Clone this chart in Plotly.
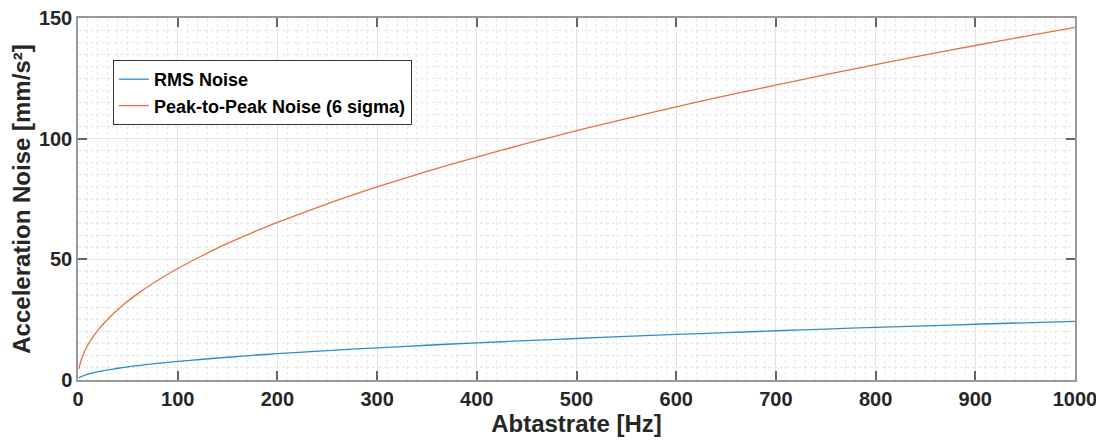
import plotly.graph_objects as go

freq_hz = [1, 2, 3, 5, 7, 10, 15, 20, 30, 40, 50, 60, 75, 100, 125, 150, 175, 200, 250,
           300, 350, 400, 450, 500, 550, 600, 650, 700, 750, 800, 850, 900, 950, 1000]
rms_noise = [0.77, 1.09, 1.33, 1.72, 2.04, 2.44, 2.98, 3.45, 4.22, 4.87, 5.45, 5.96,
             6.67, 7.70, 8.60, 9.43, 10.2, 10.9, 12.2, 13.3, 14.4, 15.4, 16.3, 17.2,
             18.1, 18.9, 19.6, 20.4, 21.1, 21.8, 22.4, 23.1, 23.7, 24.3]
p2p_noise = [4.6, 6.5, 8.0, 10.3, 12.2, 14.6, 17.9, 20.7, 25.3, 29.2, 32.7, 35.8, 40.0,
             46.2, 51.6, 56.6, 61.1, 65.3, 73.0, 80.0, 86.4, 92.4, 98.0, 103.3, 108.3,
             113.2, 117.8, 122.2, 126.5, 130.7, 134.7, 138.6, 142.4, 146.1]
x_ticks = [0, 100, 200, 300, 400, 500, 600, 700, 800, 900, 1000]
y_ticks = [0, 50, 100, 150]

FONT = "Liberation Sans"
TXT = "#262626"

fig = go.Figure()
fig.add_trace(go.Scatter(x=freq_hz, y=rms_noise, mode="lines", name="<b>RMS Noise</b>",
                         line=dict(color="#2f8ccc", width=1.3, shape="spline", smoothing=0.6)))
fig.add_trace(go.Scatter(x=freq_hz, y=p2p_noise, mode="lines",
                         name="<b>Peak-to-Peak Noise (6 sigma)</b>",
                         line=dict(color="#e5713f", width=1.3, shape="spline", smoothing=0.6)))

axis_common = dict(
    showline=True, linecolor="#999999", linewidth=1.5, mirror="ticks",
    ticks="inside", ticklen=9, tickcolor="#666666", tickwidth=1.5,
    showgrid=True, gridcolor="#e3e3e3", gridwidth=1, zeroline=False,
    tickfont=dict(family=FONT, size=20, color=TXT), automargin=False,
    ticklabeloverflow="allow",
)

fig.update_xaxes(
    range=[0, 1000], tickvals=x_ticks, ticktext=[f"<b>{v}</b>" for v in x_ticks],
    minor=dict(dtick=10, showgrid=True, gridcolor="#e6e6e6", griddash="dot", gridwidth=1),
    title=dict(text="<b>Abtastrate [Hz]</b>", font=dict(family=FONT, size=24, color=TXT), standoff=2),
    **axis_common,
)
fig.update_yaxes(
    range=[0, 150], tickvals=y_ticks, ticktext=[f"<b>{v}</b>" for v in y_ticks],
    minor=dict(dtick=5, showgrid=True, gridcolor="#e6e6e6", griddash="dot", gridwidth=1),
    title=dict(text="<b>Acceleration Noise [mm/s²]</b>", font=dict(family=FONT, size=24, color=TXT), standoff=4),
    **axis_common,
)

fig.update_layout(
    width=1096, height=436,
    margin=dict(l=70, r=29, t=10, b=64),
    paper_bgcolor="white", plot_bgcolor="white",
    showlegend=True,
    legend=dict(
        x=0.035, y=0.884, xanchor="left", yanchor="top",
        bgcolor="white", bordercolor="#333333", borderwidth=1,
        font=dict(family=FONT, size=18, color="black"),
        tracegroupgap=0, itemwidth=30,
    ),
)

fig.write_html("out.html")
